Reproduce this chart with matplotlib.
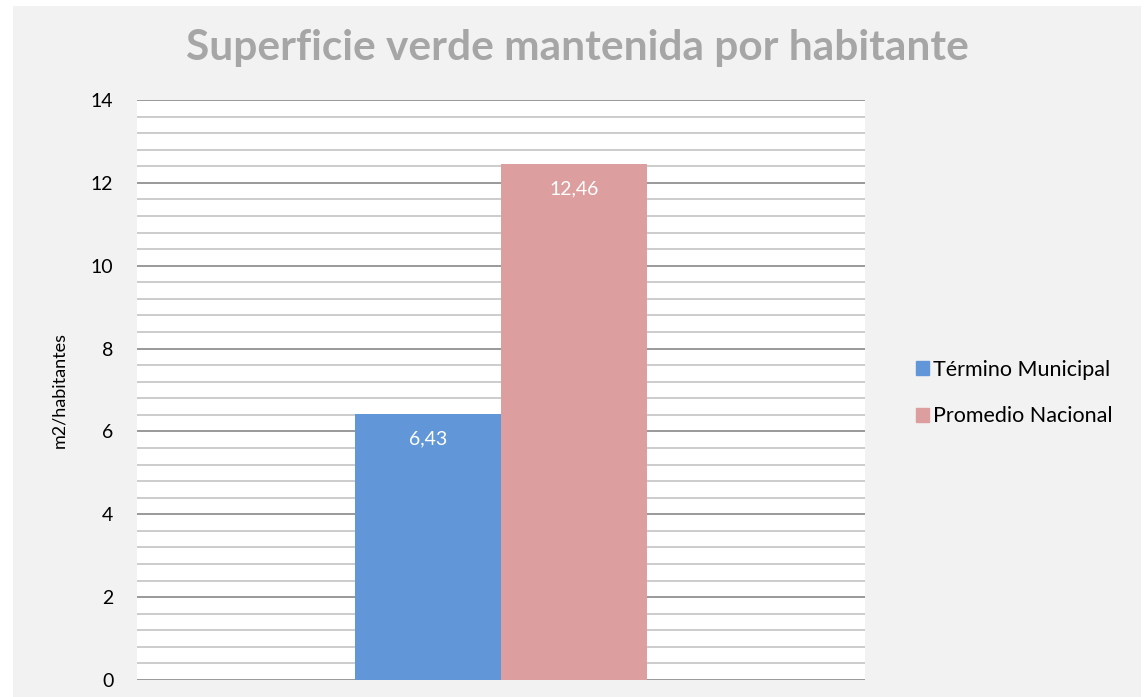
import matplotlib.pyplot as plt
from matplotlib.patches import Rectangle, Patch
from matplotlib.ticker import MultipleLocator

# datos
series = ['Término Municipal', 'Promedio Nacional']
valores = [6.43, 12.46]
etiquetas = ['6,43', '12,46']
colores = ['#6197d8', '#dc9e9e']

plt.rcParams['font.family'] = ['Lato', 'DejaVu Sans']

fig = plt.figure(figsize=(11.46, 6.97), dpi=100)
fig.patch.set_facecolor('white')
# fondo gris del grafico
fig.patches.append(Rectangle((13 / 1146, 0), (1141 - 13) / 1146, (697 - 6) / 697,
                             transform=fig.transFigure, facecolor='#f2f2f2',
                             edgecolor='none', zorder=-10))

ax = fig.add_axes([137 / 1146, 17 / 697, 728 / 1146, 580 / 697])
ax.set_facecolor('white')

ancho = 0.2
offs = [-0.1, 0.1]
for i in range(len(series)):
    ax.bar(offs[i], valores[i], width=ancho, color=colores[i], zorder=3)
    ax.text(offs[i], valores[i] - 0.6, etiquetas[i], color='white',
            ha='center', va='center', fontsize=14, zorder=4)

ax.set_xlim(-0.5, 0.5)
ax.set_ylim(0, 14)
ax.yaxis.set_major_locator(MultipleLocator(2))
ax.yaxis.set_minor_locator(MultipleLocator(0.4))
ax.grid(which='major', axis='y', color='#878787', linewidth=1.2, zorder=1)
ax.grid(which='minor', axis='y', color='#c4c4c4', linewidth=1.2, zorder=1)
ax.set_xticks([])
for s in ['top', 'right', 'left', 'bottom']:
    ax.spines[s].set_visible(False)
ax.tick_params(axis='y', which='both', length=0, labelsize=14, pad=17)
ax.set_ylabel('m2/habitantes', fontsize=13, labelpad=17)

fig.text(577 / 1146, 1 - 48 / 697, 'Superficie verde mantenida por habitante',
         ha='center', va='center', fontsize=30.5, fontweight='bold', color='#a6a6a6')

handles = [Patch(color=c) for c in colores]
fig.legend(handles, series, loc='center left', bbox_to_anchor=(897 / 1146, 1 - 393 / 697),
           frameon=False, fontsize=15.5, handlelength=0.6, handleheight=0.6,
           handletextpad=0.15, labelspacing=1.25)

fig.savefig('out.png', dpi=100, facecolor=fig.get_facecolor())
